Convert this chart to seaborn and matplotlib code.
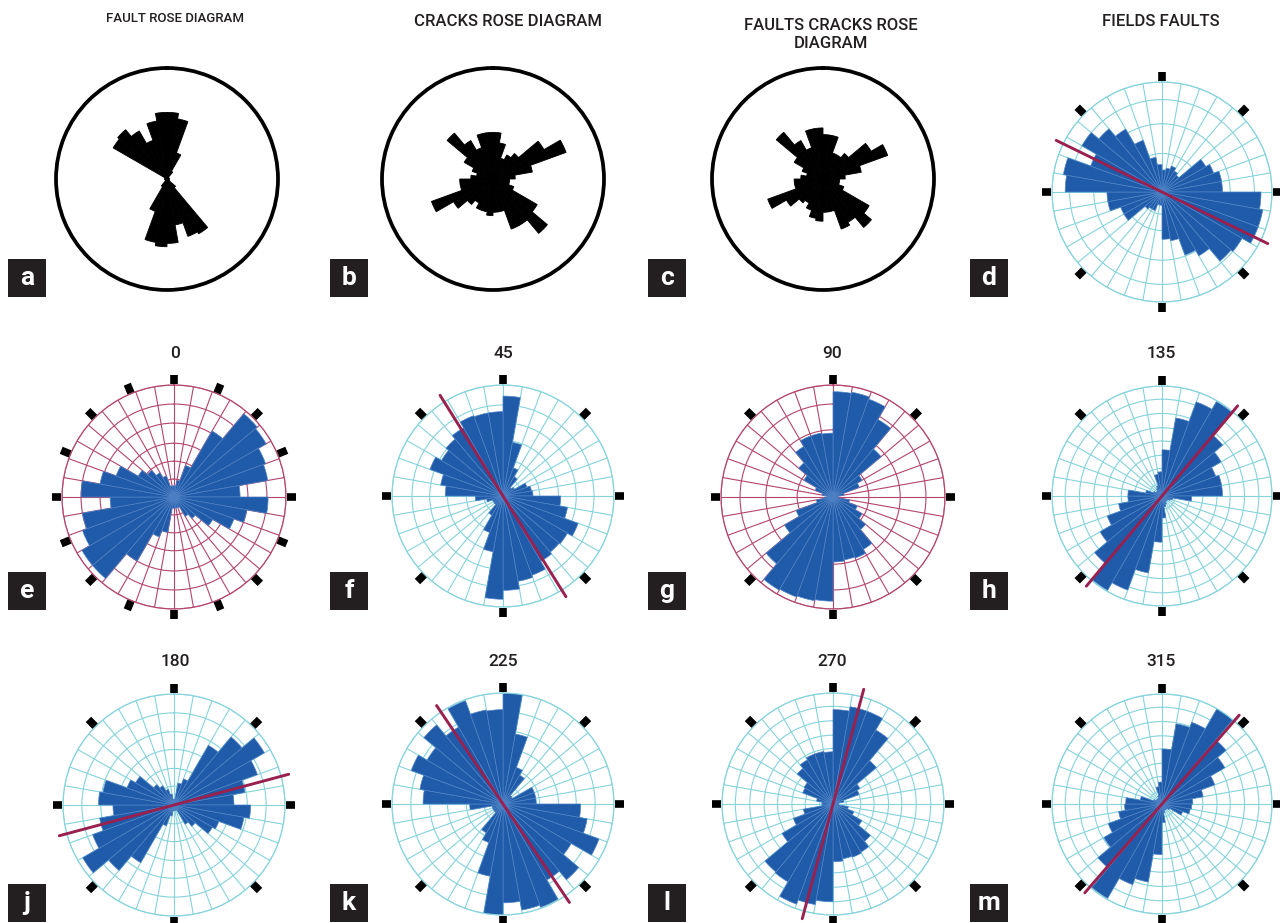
import numpy as np
import matplotlib
matplotlib.use('Agg')
import matplotlib.pyplot as plt
from matplotlib.patches import Rectangle
import seaborn as sns

sns.set_theme(style='white')
plt.rcParams['font.family'] = ['Roboto', 'DejaVu Sans']

# bin centres (compass degrees, 10 degree classes)
bins = np.arange(5, 360, 10)

# black roses (radius relative to outer circle)
fault_a = [0.60, 0.55, 0.25, 0.08, 0.02, 0.02, 0.02, 0.02, 0.02, 0.02, 0.02, 0.02, 0.03, 0.10, 0.57, 0.55, 0.42, 0.58,
           0.61, 0.58, 0.31, 0.08, 0.02, 0.02, 0.02, 0.02, 0.02, 0.02, 0.02, 0.02, 0.56, 0.58, 0.50, 0.37, 0.53, 0.60]
cracks_b = [0.42, 0.33, 0.20, 0.25, 0.30, 0.53, 0.70, 0.36, 0.20, 0.15, 0.15, 0.20, 0.46, 0.64, 0.48, 0.48, 0.30, 0.30,
            0.33, 0.30, 0.30, 0.25, 0.30, 0.41, 0.59, 0.30, 0.30, 0.20, 0.15, 0.20, 0.30, 0.54, 0.40, 0.30, 0.42, 0.42]
faults_cracks_c = [0.40, 0.40, 0.25, 0.25, 0.30, 0.50, 0.62, 0.35, 0.20, 0.15, 0.15, 0.20, 0.48, 0.57, 0.45, 0.48, 0.30, 0.30,
                   0.38, 0.36, 0.30, 0.25, 0.28, 0.38, 0.53, 0.26, 0.26, 0.20, 0.15, 0.20, 0.30, 0.55, 0.40, 0.30, 0.46, 0.46]

# blue roses
fields_d = [0.20, 0.22, 0.25, 0.22, 0.20, 0.46, 0.50, 0.55, 0.55, 0.90, 0.93, 0.93, 0.84, 0.82, 0.67, 0.61, 0.45, 0.43,
            0.12, 0.12, 0.18, 0.18, 0.20, 0.40, 0.40, 0.50, 0.50, 0.88, 0.91, 0.69, 0.84, 0.75, 0.66, 0.50, 0.32, 0.25]
rot_0 = [0.10, 0.15, 0.30, 0.68, 0.97, 0.95, 0.87, 0.85, 0.59, 0.84, 0.66, 0.57, 0.40, 0.25, 0.20, 0.10, 0.10, 0.10,
         0.10, 0.32, 0.38, 0.66, 0.95, 0.95, 0.87, 0.83, 0.57, 0.83, 0.67, 0.55, 0.37, 0.31, 0.25, 0.20, 0.10, 0.10]
rot_45 = [0.90, 0.49, 0.27, 0.20, 0.10, 0.12, 0.23, 0.26, 0.27, 0.52, 0.59, 0.72, 0.67, 0.66, 0.68, 0.76, 0.78, 0.85,
          0.93, 0.51, 0.35, 0.20, 0.10, 0.10, 0.10, 0.15, 0.25, 0.52, 0.57, 0.70, 0.64, 0.67, 0.71, 0.77, 0.76, 0.76]
rot_90 = [0.94, 0.95, 0.93, 0.80, 0.56, 0.30, 0.25, 0.10, 0.05, 0.05, 0.15, 0.23, 0.30, 0.38, 0.54, 0.58, 0.57, 0.58,
          0.93, 0.94, 0.95, 0.96, 0.78, 0.50, 0.35, 0.15, 0.08, 0.05, 0.10, 0.17, 0.30, 0.40, 0.52, 0.58, 0.58, 0.57]
rot_135 = [0.42, 0.72, 0.91, 0.99, 0.72, 0.62, 0.52, 0.55, 0.55, 0.27, 0.10, 0.08, 0.06, 0.06, 0.06, 0.08, 0.10, 0.20,
           0.42, 0.71, 0.91, 0.99, 0.80, 0.65, 0.53, 0.40, 0.31, 0.31, 0.15, 0.08, 0.06, 0.06, 0.08, 0.10, 0.20, 0.22]
rot_180 = [0.05, 0.20, 0.25, 0.62, 0.80, 0.94, 0.80, 0.65, 0.54, 0.69, 0.64, 0.43, 0.40, 0.25, 0.20, 0.05, 0.05, 0.05,
           0.05, 0.10, 0.20, 0.60, 0.77, 0.95, 0.78, 0.68, 0.55, 0.68, 0.65, 0.45, 0.40, 0.24, 0.20, 0.15, 0.10, 0.05]
rot_225 = [1.00, 0.64, 0.35, 0.30, 0.10, 0.10, 0.30, 0.30, 0.30, 0.70, 0.77, 0.92, 0.71, 0.89, 0.79, 0.99, 0.97, 0.89,
           1.00, 0.66, 0.37, 0.30, 0.10, 0.10, 0.10, 0.10, 0.30, 0.72, 0.76, 0.88, 0.79, 0.93, 0.80, 0.99, 0.86, 0.85]
rot_270 = [0.85, 0.89, 0.89, 0.77, 0.51, 0.28, 0.25, 0.10, 0.05, 0.05, 0.14, 0.20, 0.30, 0.44, 0.50, 0.51, 0.50, 0.52,
           0.88, 0.92, 0.96, 0.81, 0.80, 0.53, 0.38, 0.27, 0.10, 0.10, 0.15, 0.29, 0.30, 0.42, 0.46, 0.48, 0.48, 0.47]
rot_315 = [0.50, 0.74, 0.79, 1.00, 0.76, 0.66, 0.51, 0.38, 0.28, 0.27, 0.26, 0.20, 0.08, 0.06, 0.06, 0.06, 0.08, 0.17,
           0.46, 0.72, 0.78, 0.99, 0.76, 0.61, 0.52, 0.40, 0.34, 0.33, 0.20, 0.08, 0.06, 0.06, 0.06, 0.08, 0.16, 0.20]

# mean directions (red line), compass degrees
mean_dir = {'d': 116, 'f': 148, 'h': 40, 'j': 75, 'k': 146, 'l': 15, 'm': 41}

titles_top = ['FAULT ROSE DIAGRAM', 'CRACKS ROSE DIAGRAM', 'FAULTS CRACKS ROSE\nDIAGRAM', 'FIELDS FAULTS']
rot_labels = ['0', '45', '90', '135', '180', '225', '270', '315']

W, H = 1280, 923
fig = plt.figure(figsize=(12.8, 9.23), dpi=100)

BLUE = '#1f5ba8'
CYAN = '#86d3dc'
MAROON = '#b3456f'
RED = '#99204f'


def polar_at(cx, cy, r):
    ax = fig.add_axes([(cx - r) / W, 1 - (cy + r) / H, 2 * r / W, 2 * r / H], projection='polar')
    ax.set_theta_zero_location('N')
    ax.set_theta_direction(-1)
    ax.set_facecolor('none')
    return ax


def black_rose(ax, vals):
    ax.bar(np.deg2rad(bins), vals, width=np.deg2rad(10), color='black', edgecolor='black', lw=0.6)
    ax.set_ylim(0, 1)
    ax.grid(False)
    ax.set_xticks([]); ax.set_yticks([])
    ax.spines['polar'].set_linewidth(2.7)
    ax.spines['polar'].set_color('black')


def blue_rose(ax, vals, gcol, rings, nticks, line=None):
    ax.set_ylim(0, 1)
    ax.set_xticks(np.deg2rad(np.arange(0, 360, 10)))
    ax.set_xticklabels([])
    ax.set_yticks(rings)
    ax.set_yticklabels([])
    ax.grid(True, color=gcol, lw=0.8)
    ax.set_axisbelow(True)
    ax.spines['polar'].set_color(gcol)
    ax.spines['polar'].set_linewidth(0.9)
    ax.bar(np.deg2rad(bins), vals, width=np.deg2rad(10), color=BLUE, edgecolor='#4f82c6', lw=0.5, zorder=2)
    for t in np.arange(0, 360, 360 / nticks):
        ax.plot([np.deg2rad(t)] * 2, [1.005, 1.09], color='black', lw=5.5,
                solid_capstyle='butt', clip_on=False, zorder=3)
    if line is not None:
        th = np.deg2rad(line)
        ax.plot([th, th, th + np.pi], [1.07, 0, 1.07], color=RED, lw=2.1, clip_on=False, zorder=4)


# row 1
for cx, vals in zip([167, 493, 823], [fault_a, cracks_b, faults_cracks_c]):
    black_rose(polar_at(cx, 179, 111), vals)
blue_rose(polar_at(1162, 192, 110), fields_d, CYAN, [0.2, 0.35, 0.62, 0.84, 1.0], 8, mean_dir['d'])

# row 2
blue_rose(polar_at(174, 497, 112), rot_0, MAROON, [0.16, 0.32, 0.48, 0.66, 0.83, 1.0], 16)
blue_rose(polar_at(503, 496, 111), rot_45, CYAN, [0.17, 0.33, 0.5, 0.66, 0.82, 1.0], 8, mean_dir['f'])
blue_rose(polar_at(833, 497, 112), rot_90, MAROON, [0.32, 0.6, 0.83, 1.0], 8)
blue_rose(polar_at(1162, 496, 110), rot_135, CYAN, [0.12, 0.25, 0.37, 0.5, 0.62, 0.75, 0.88, 1.0], 8, mean_dir['h'])

# row 3
blue_rose(polar_at(174, 805, 111), rot_180, CYAN, [0.17, 0.33, 0.5, 0.66, 0.83, 1.0], 8, mean_dir['j'])
blue_rose(polar_at(503, 804, 111), rot_225, CYAN, [0.17, 0.33, 0.5, 0.66, 0.83, 1.0], 8, mean_dir['k'])
blue_rose(polar_at(833, 804, 111), rot_270, CYAN, [0.12, 0.25, 0.37, 0.5, 0.62, 0.75, 0.88, 1.0], 8, mean_dir['l'])
blue_rose(polar_at(1162, 804, 110), rot_315, CYAN, [0.12, 0.25, 0.37, 0.5, 0.62, 0.75, 0.88, 1.0], 8, mean_dir['m'])

# titles
fig.text(175 / W, 1 - 18 / H, titles_top[0], ha='center', va='center', fontsize=9.5,
         color='#231f20', fontweight='medium')
fig.text(508 / W, 1 - 22 / H, titles_top[1], ha='center', va='center', fontsize=12,
         color='#231f20', fontweight='medium')
fig.text(831 / W, 1 - 34 / H, titles_top[2], ha='center', va='center', fontsize=12, color='#231f20',
         linespacing=1.25, fontweight='medium')
fig.text(1161 / W, 1 - 22 / H, titles_top[3], ha='center', va='center', fontsize=12,
         color='#231f20', fontweight='medium')

for i, lab in enumerate(rot_labels):
    y = 353 if i < 4 else 662
    x = [175, 503, 832, 1161][i % 4]
    fig.text(x / W, 1 - y / H, lab, ha='center', va='center', fontsize=12.5,
             color='#231f20', fontweight='medium')

# panel letters
letters = ['a', 'b', 'c', 'd', 'e', 'f', 'g', 'h', 'j', 'k', 'l', 'm']
box_x = [8, 330, 648, 970]
box_y = [259, 572, 884]
for i, let in enumerate(letters):
    bx, by = box_x[i % 4], box_y[i // 4]
    fig.add_artist(Rectangle((bx / W, 1 - (by + 38) / H), 38 / W, 38 / H,
                             transform=fig.transFigure, color='#231f20', lw=0))
    fig.text((bx + 19) / W, 1 - (by + 19) / H, let, ha='center', va='center',
             color='white', fontsize=19, fontweight='bold')

fig.savefig('out.png', dpi=100)
